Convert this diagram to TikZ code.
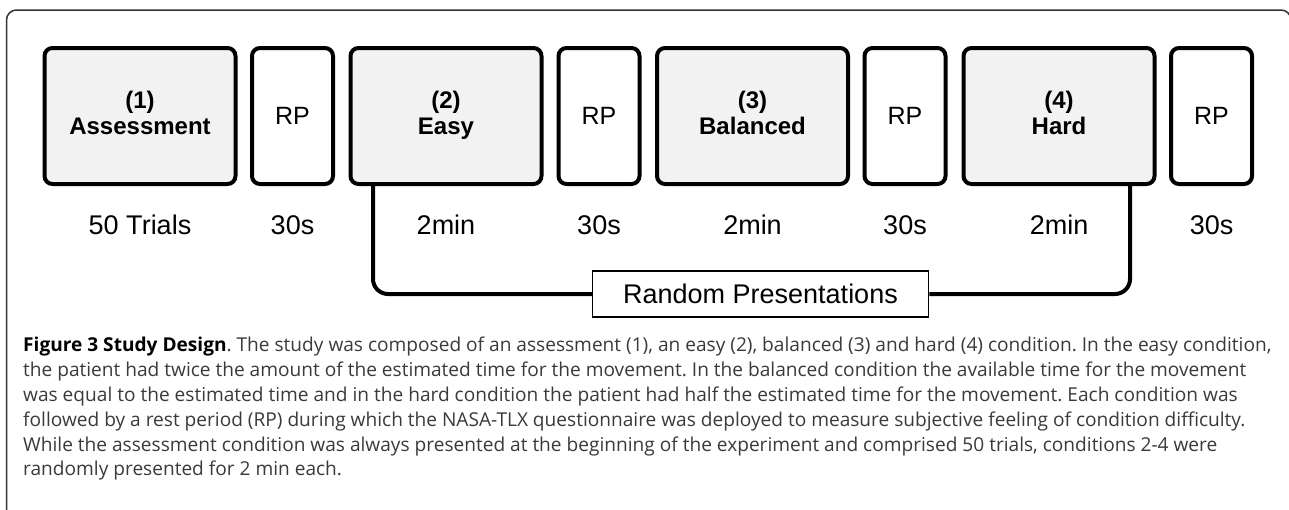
\documentclass[tikz,border=0pt]{standalone}
\usepackage{fontspec}
\setmainfont{Liberation Sans}
\newfontfamily\capfont{Open Sans}
\definecolor{boxgray}{HTML}{F2F2F2}
\definecolor{framegray}{HTML}{333333}
\definecolor{captext}{HTML}{3A3A3A}
\begin{document}
\begin{tikzpicture}[x=1pt,y=-1pt,
  stagebox/.style={draw=black, line width=4pt, rounded corners=8pt, fill=boxgray,
    minimum width=191pt, minimum height=136pt, inner sep=0pt, align=center,
    font=\fontsize{24}{26}\selectfont\bfseries},
  restbox/.style={draw=black, line width=4pt, rounded corners=8pt, fill=white,
    minimum width=81pt, minimum height=136pt, inner sep=0pt,
    font=\fontsize{25}{28}\selectfont},
  durlabel/.style={font=\fontsize{27}{30}\selectfont, inner sep=0pt},
  bracket/.style={draw=black, line width=4pt, rounded corners=15pt},
  randbox/.style={draw=black, line width=1.5pt, fill=white, minimum width=336pt,
    minimum height=46pt, inner sep=0pt, font=\fontsize{27}{30}\selectfont},
  frame/.style={draw=framegray, line width=1.5pt, rounded corners=10pt},
  caption/.style={anchor=north west, inner sep=0pt, align=left, text=captext,
    font=\capfont\fontsize{19.1}{24.8}\selectfont\frenchspacing}
]
\useasboundingbox (0,0) rectangle (1289,509);
\clip (0,0) rectangle (1289,509);
\fill[white] (0,0) rectangle (1289,509);

% outer frame
\draw[frame] (6.5,530) -- (6.5,10) -- (1291,10) -- (1291,80);

% stage boxes
\node[stagebox] (b1) at (140,116) {(1)\strut\\Assessment\strut};
\node[restbox]  (r1) at (292.5,116) {RP};
\node[stagebox] (b2) at (446,116) {(2)\strut\\Easy\strut};
\node[restbox]  (r2) at (599,116) {RP};
\node[stagebox] (b3) at (752.5,116) {(3)\strut\\Balanced\strut};
\node[restbox]  (r3) at (905,116) {RP};
\node[stagebox] (b4) at (1059,116) {(4)\strut\\Hard\strut};
\node[restbox]  (r4) at (1211.5,116) {RP};

% duration labels
\node[durlabel] (d1) at (140,225) {50 Trials};
\node[durlabel] (d2) at (292.5,225) {30s};
\node[durlabel] (d3) at (446,225) {2min};
\node[durlabel] (d4) at (599,225) {30s};
\node[durlabel] (d5) at (752.5,225) {2min};
\node[durlabel] (d6) at (905,225) {30s};
\node[durlabel] (d7) at (1059,225) {2min};
\node[durlabel] (d8) at (1211.5,225) {30s};

% random presentations
\node[randbox] (rand) at (760.5,294) {Random Presentations};
\draw[bracket] ([xshift=-73pt]b2.south) |- (rand.west);
\draw[bracket] ([xshift=71pt]b4.south) |- (rand.east);

% caption
\node[caption] (cap) at (23,337) {\textbf{\color{black}Figure 3 Study Design}. The study was composed of an assessment (1), an easy (2), balanced (3) and hard (4) condition. In the easy condition,\\
the patient had twice the amount of the estimated time for the movement. In the balanced condition the available time for the movement\\
was equal to the estimated time and in the hard condition the patient had half the estimated time for the movement. Each condition was\\
followed by a rest period (RP) during which the NASA-TLX questionnaire was deployed to measure subjective feeling of condition difficulty.\\
While the assessment condition was always presented at the beginning of the experiment and comprised 50 trials, conditions 2-4 were\\
randomly presented for 2 min each.};
\end{tikzpicture}
\end{document}
